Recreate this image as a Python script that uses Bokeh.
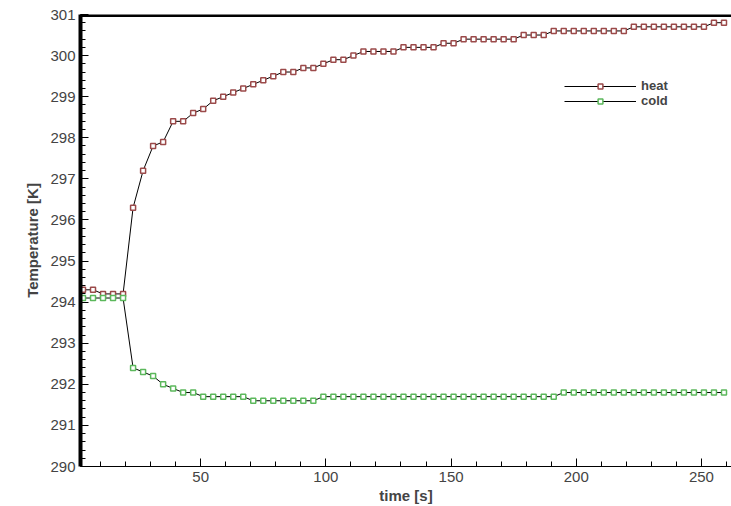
from bokeh.plotting import figure
from bokeh.models import Range1d, Legend, LegendItem, FixedTicker
from bokeh.embed import file_html
from bokeh.resources import INLINE

time = [3 + 4 * k for k in range(65)]
heat = [294.3, 294.3, 294.2, 294.2, 294.2, 296.3, 297.2, 297.8, 297.9, 298.4,
        298.4, 298.6, 298.7, 298.9, 299.0, 299.1, 299.2, 299.3, 299.4, 299.5,
        299.6, 299.6, 299.7, 299.7, 299.8, 299.9, 299.9, 300.0, 300.1, 300.1,
        300.1, 300.1, 300.2, 300.2, 300.2, 300.2, 300.3, 300.3, 300.4, 300.4,
        300.4, 300.4, 300.4, 300.4, 300.5, 300.5, 300.5, 300.6, 300.6, 300.6,
        300.6, 300.6, 300.6, 300.6, 300.6, 300.7, 300.7, 300.7, 300.7, 300.7,
        300.7, 300.7, 300.7, 300.8, 300.8]
cold = [294.1, 294.1, 294.1, 294.1, 294.1, 292.4, 292.3, 292.2, 292.0, 291.9,
        291.8, 291.8, 291.7, 291.7, 291.7, 291.7, 291.7, 291.6, 291.6, 291.6,
        291.6, 291.6, 291.6, 291.6] + [291.7] * 24 + [291.8] * 17
y_ticks = list(range(290, 302))
x_ticks = [50, 100, 150, 200, 250]

p = figure(width=731, height=506, output_backend="svg", toolbar_location=None,
           x_range=Range1d(2, 262), y_range=Range1d(290, 301),
           min_border_left=80, min_border_top=14, min_border_right=0,
           min_border_bottom=40)
p.xgrid.visible = p.ygrid.visible = False
p.outline_line_color = None

for ax in (p.xaxis[0], p.yaxis[0]):
    ax.axis_line_width = 4
    ax.axis_line_color = "black"
    ax.major_tick_in = 8
    ax.major_tick_out = 0
    ax.minor_tick_in = 5
    ax.minor_tick_out = 0
    ax.major_label_text_font = "Liberation Sans"
    ax.major_label_text_font_size = "15px"
    ax.axis_label_text_font = "Liberation Sans"
    ax.axis_label_text_font_style = "bold"
    ax.axis_label_text_font_size = "15px"
p.xaxis.axis_line_width = 1
p.xaxis.ticker = FixedTicker(ticks=x_ticks,
                             minor_ticks=list(range(10, 262, 10)))
p.yaxis.ticker = FixedTicker(ticks=y_ticks,
                             minor_ticks=[290 + i * 0.2 for i in range(56)])
p.xaxis.axis_label = "time [s]"
p.yaxis.axis_label = "Temperature [K]"
p.xaxis.axis_label_standoff = 2
p.yaxis.axis_label_standoff = 6

# thick top frame
p.line(x=[2, 262], y=[301, 301], line_width=5, color="black")

h_line = p.line(time, heat, color="black", line_width=1)
h_pts = p.scatter(time, heat, marker="square", size=5, fill_color="white",
                  line_color="#9b4a4a", line_width=1.5)
c_line = p.line(time, cold, color="black", line_width=1)
c_pts = p.scatter(time, cold, marker="square", size=5, fill_color="white",
                  line_color="#5cb85c", line_width=1.5)

legend = Legend(items=[LegendItem(label="heat", renderers=[h_line, h_pts]),
                       LegendItem(label="cold", renderers=[c_line, c_pts])],
                location=(484, 358), glyph_width=72, glyph_height=12,
                spacing=0, padding=0, border_line_color=None,
                background_fill_alpha=0, label_text_font="Liberation Sans",
                label_text_font_style="bold", label_text_font_size="13px")
p.add_layout(legend)

open("out.html", "w").write(file_html(p, INLINE))
